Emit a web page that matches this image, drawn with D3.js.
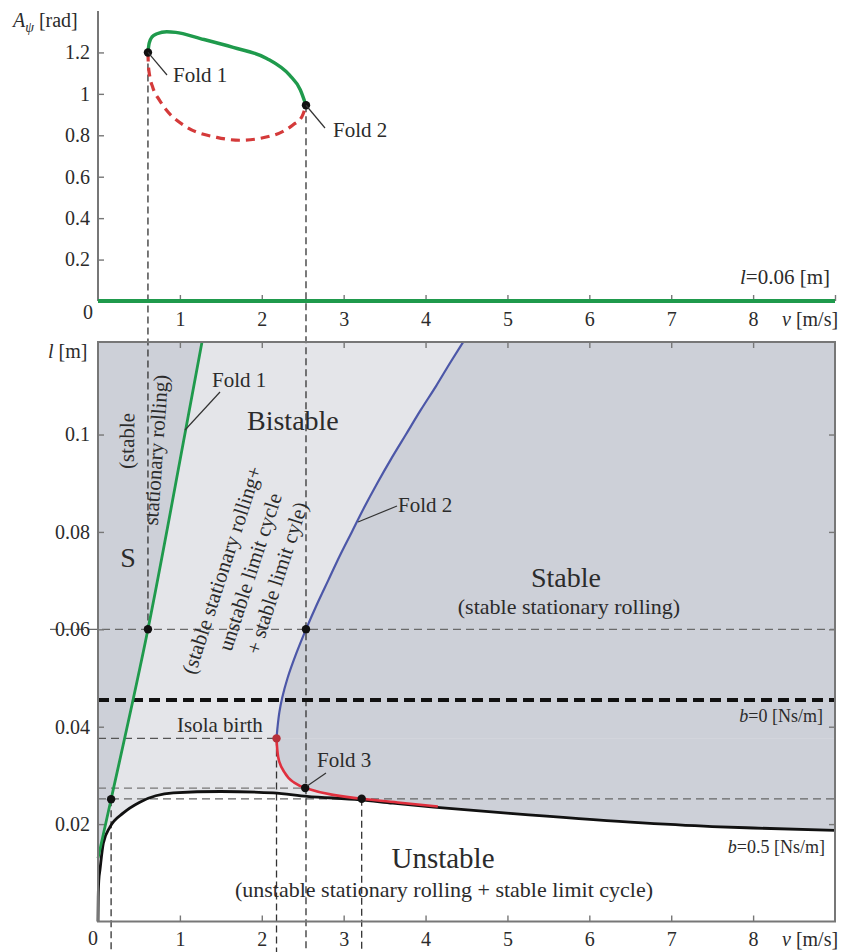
<!DOCTYPE html>
<html><head><meta charset="utf-8">
<script src="https://cdn.jsdelivr.net/npm/d3@7"></script>
<style>
body{margin:0;background:#fff}
text{font-family:"Liberation Serif","Times New Roman",serif;fill:#2b2b2b}
</style>
</head><body>
<svg id="c" width="846" height="952"></svg>
<script>
// ---------- data ----------
const xTicks=[1,2,3,4,5,6,7,8,9];
const xTickLabels=["1","2","3","4","5","6","7","8",""];
const topYTicks=[0.2,0.4,0.6,0.8,1,1.2];
const topYTickLabels=["0.2","0.4","0.6","0.8","1","1.2"];
const botYTicks=[0.02,0.04,0.06,0.08,0.1];
const botYTickLabels=["0.02","0.04","0.06","0.08","0.1"];

// top panel (l = 0.06 m): limit-cycle amplitude A_psi vs v
const stableBranch=[[0.61,1.2],[0.625,1.245],[0.66,1.275],[0.72,1.29],[0.84,1.3],[0.95,1.297],[1.25,1.267],[1.65,1.224],[2.06,1.171],[2.34,1.09],[2.47,1.02],[2.54,0.945]];
const unstableBranch=[[0.61,1.2],[0.615,1.14],[0.63,1.09],[0.67,1.03],[0.75,0.97],[0.84,0.92],[1.08,0.84],[1.45,0.79],[1.73,0.776],[2.14,0.8],[2.38,0.85],[2.49,0.89],[2.54,0.945]];
const zeroBranch=[[0,0],[9,0]];
const topFolds=[[0.61,1.2],[2.54,0.945]];

// bottom panel: stability chart l vs v
const fold1Curve=[[0.0,0.013],[0.16,0.0251],[0.61,0.06],[1.06,0.1],[1.27,0.119]];
const fold2Curve=[[2.18,0.0376],[2.193,0.04],[2.215,0.043],[2.25,0.046],[2.315,0.05],[2.42,0.055],[2.54,0.06],[2.67,0.065],[2.81,0.07],[2.95,0.075],[3.1,0.08],[3.25,0.085],[3.41,0.09],[3.58,0.095],[3.76,0.1],[3.94,0.105],[4.13,0.11],[4.31,0.115],[4.46,0.119]];
const fold3Curve=[[2.18,0.0376],[2.2,0.0338],[2.26,0.0311],[2.38,0.0287],[2.53,0.0274],[2.87,0.026],[3.22,0.0252],[3.69,0.0244],[4.15,0.0236]];
const hopfCurve=[[0,0],[0.003,0.005],[0.01,0.0085],[0.024,0.0106],[0.065,0.0161],[0.146,0.0194],[0.31,0.0223],[0.51,0.0245],[0.92,0.0264],[1.5,0.0267],[2.14,0.0264],[2.55,0.0257],[3.2,0.025],[3.6,0.0243],[4.1,0.0235],[5.03,0.0222],[6.5,0.0204],[7.5,0.0195],[8,0.0192],[9,0.0187]];
const undampedLevel=0.0455;
const lRef=0.06;
const isolaPoint=[2.18,0.0376];
const fold3Point=[2.53,0.0274];
const mergePoint=[3.22,0.0252];
const fold1Low=[0.16,0.0251];
const botFolds=[[0.61,0.06],[2.54,0.06],fold1Low,fold3Point,mergePoint];

// ---------- layout ----------
const svg=d3.select("#c");
const x=d3.scaleLinear([0,9],[98,835]);
const yT=d3.scaleLinear([0,1.4],[301,11]);
const yB=d3.scaleLinear([0,0.119],[921.5,342]);
const dark="#cdd0d8", light="#e4e5e9";
const serif='"Liberation Serif","Times New Roman",serif';

// ---------- bottom regions ----------
const gR=svg.append("g");
gR.append("rect").attr("x",x(0)).attr("y",yB(0.119)).attr("width",x(9)-x(0)).attr("height",yB(0)-yB(0.119)).attr("fill",light);
gR.append("path").datum(fold1Curve).attr("fill",dark)
  .attr("d",d3.area().curve(d3.curveMonotoneY).y(d=>yB(d[1])).x0(x(0)).x1(d=>x(d[0])));
gR.append("path").datum(fold2Curve).attr("fill",dark)
  .attr("d",d3.area().curve(d3.curveMonotoneY).y(d=>yB(d[1])).x0(d=>x(d[0])).x1(x(9)));
const f3rev=fold3Curve.filter(d=>d[0]<=mergePoint[0]).slice().reverse();
gR.append("path").datum(f3rev).attr("fill",dark)
  .attr("d",d3.area().curve(d3.curveMonotoneY).y(d=>yB(d[1])).x0(d=>x(d[0])).x1(x(9)));
gR.append("rect").attr("x",x(mergePoint[0])).attr("y",yB(mergePoint[1])-0.5).attr("width",x(9)-x(mergePoint[0])).attr("height",yB(0)-yB(mergePoint[1])).attr("fill",dark);
gR.append("path").datum(hopfCurve).attr("fill","#fff")
  .attr("d",d3.area().curve(d3.curveMonotoneX).x(d=>x(d[0])).y0(yB(0)).y1(d=>yB(d[1])));

// ---------- dashed reference lines ----------
const gD=svg.append("g").attr("fill","none");
function dash(x1,y1,x2,y2,col,w,da){gD.append("line").attr("x1",x1).attr("y1",y1).attr("x2",x2).attr("y2",y2).attr("stroke",col).attr("stroke-width",w).attr("stroke-dasharray",da);}
dash(50,yB(lRef),x(9),yB(lRef),"#6a6a6a",1.3,"8,5");
dash(x(0),yB(isolaPoint[1]),x(isolaPoint[0]),yB(isolaPoint[1]),"#555",1.3,"8,5");
dash(x(0),yB(fold3Point[1]),x(fold3Point[0]),yB(fold3Point[1]),"#777",1.3,"8,5");
dash(x(0),yB(mergePoint[1]),x(9),yB(mergePoint[1]),"#666",1.3,"8,5");
dash(x(topFolds[0][0]),yT(topFolds[0][1]),x(topFolds[0][0]),yB(lRef),"#333",1.3,"7,4");
dash(x(topFolds[1][0]),yT(topFolds[1][1]),x(topFolds[1][0]),952,"#333",1.3,"7,4");
dash(x(isolaPoint[0]),yB(isolaPoint[1]),x(isolaPoint[0]),952,"#333",1.3,"7,4");
dash(x(mergePoint[0]),yB(mergePoint[1]),x(mergePoint[0]),952,"#333",1.3,"7,4");
dash(x(fold1Low[0]),yB(fold1Low[1]),x(fold1Low[0]),952,"#333",1.3,"7,4");
dash(x(0),yB(undampedLevel),x(9),yB(undampedLevel),"#111",4,"11,6");

// ---------- curves ----------
const lineT=d3.line().curve(d3.curveMonotoneX).x(d=>x(d[0])).y(d=>yT(d[1]));
const lineB=d3.line().curve(d3.curveMonotoneX).x(d=>x(d[0])).y(d=>yB(d[1]));
const lineBy=d3.line().curve(d3.curveMonotoneY).x(d=>x(d[0])).y(d=>yB(d[1]));
svg.append("path").datum(hopfCurve).attr("d",lineB).attr("fill","none").attr("stroke","#111").attr("stroke-width",2.8);
svg.append("path").datum(fold3Curve.slice().reverse()).attr("d",lineBy).attr("fill","none").attr("stroke","#e0303e").attr("stroke-width",2.6);
svg.append("path").datum(fold2Curve).attr("d",lineBy).attr("fill","none").attr("stroke","#4c57a8").attr("stroke-width",2.2);
svg.append("path").datum(fold1Curve).attr("d",lineB).attr("fill","none").attr("stroke","#1f9a4c").attr("stroke-width",2.8);

svg.append("path").datum(unstableBranch).attr("d",lineT).attr("fill","none").attr("stroke","#d43a3a").attr("stroke-width",3.2).attr("stroke-dasharray","9,6");
svg.append("path").datum(stableBranch).attr("d",lineT).attr("fill","none").attr("stroke","#1f9a4c").attr("stroke-width",3.4);

// ---------- axes ----------
function styleAxis(g){g.select(".domain").remove();g.selectAll(".tick line").attr("stroke","#777").attr("stroke-width",1.4);g.selectAll("text").attr("font-family",serif).attr("font-size",20).attr("fill","#2b2b2b");}
svg.append("line").attr("x1",x(0)).attr("x2",x(0)).attr("y1",yT(1.4)).attr("y2",yT(0)).attr("stroke","#777").attr("stroke-width",2);
svg.append("g").attr("transform",`translate(0,${yT(0)})`).call(d3.axisBottom(x).tickValues(xTicks).tickSize(-6).tickPadding(11).tickFormat((d,i)=>xTickLabels[i])).call(styleAxis);
svg.append("g").attr("transform",`translate(${x(0)},0)`).call(d3.axisLeft(yT).tickValues(topYTicks).tickSize(-6).tickPadding(8).tickFormat((d,i)=>topYTickLabels[i])).call(styleAxis);
svg.append("path").datum(zeroBranch).attr("d",lineT).attr("stroke","#1f9a4c").attr("stroke-width",4.2).attr("fill","none");

svg.append("rect").attr("x",x(0)).attr("y",yB(0.119)).attr("width",x(9)-x(0)).attr("height",yB(0)-yB(0.119)).attr("fill","none").attr("stroke","#777").attr("stroke-width",2);
svg.append("g").attr("transform",`translate(0,${yB(0)})`).call(d3.axisBottom(x).tickValues(xTicks.slice(0,8)).tickSize(-6).tickPadding(10).tickFormat((d,i)=>xTickLabels[i])).call(styleAxis);
svg.append("g").attr("transform",`translate(0,${yB(0.119)})`).call(d3.axisTop(x).tickValues(xTicks.slice(0,8)).tickSize(-6).tickFormat("")).call(styleAxis);
svg.append("g").attr("transform",`translate(${x(0)},0)`).call(d3.axisLeft(yB).tickValues(botYTicks).tickSize(-6).tickPadding(8).tickFormat((d,i)=>botYTickLabels[i])).call(styleAxis);
svg.append("g").attr("transform",`translate(${x(9)},0)`).call(d3.axisRight(yB).tickValues(botYTicks).tickSize(-6).tickFormat("")).call(styleAxis);

// ---------- dots ----------
svg.selectAll(".dt").data(topFolds).join("circle").attr("cx",d=>x(d[0])).attr("cy",d=>yT(d[1])).attr("r",4.2).attr("fill","#111");
svg.selectAll(".db").data(botFolds).join("circle").attr("cx",d=>x(d[0])).attr("cy",d=>yB(d[1])).attr("r",4.2).attr("fill","#111");
svg.append("circle").attr("cx",x(isolaPoint[0])).attr("cy",yB(isolaPoint[1])).attr("r",4.2).attr("fill","#b8303a");

// ---------- text ----------
function txt(s,px,py,size,anchor,opts){const t=svg.append("text").attr("x",px).attr("y",py).attr("font-size",size).attr("text-anchor",anchor||"start");if(opts&&opts.rot!==undefined){t.attr("transform",`rotate(${opts.rot},${px},${py})`).attr("dominant-baseline","central");}t.text(s);return t;}
function leader(x1,y1,x2,y2){svg.append("line").attr("x1",x1).attr("y1",y1).attr("x2",x2).attr("y2",y2).attr("stroke","#333").attr("stroke-width",1.2);}

txt("0",88,319,20,"middle");
txt("0",93,945,20,"middle");
function vTitle(py){const t=svg.append("text").attr("x",782).attr("y",py).attr("font-size",20);t.append("tspan").attr("font-style","italic").text("v");t.append("tspan").text(" [m/s]");}
vTitle(326); vTitle(946);
{const t=svg.append("text").attr("x",13).attr("y",27).attr("font-size",20);t.append("tspan").attr("font-style","italic").text("A");t.append("tspan").attr("font-style","italic").attr("font-size",14).attr("dy",5).text("ψ");t.append("tspan").attr("dy",-5).text(" [rad]");}
{const t=svg.append("text").attr("x",48).attr("y",358).attr("font-size",20);t.append("tspan").attr("font-style","italic").text("l");t.append("tspan").text(" [m]");}
{const t=svg.append("text").attr("x",830).attr("y",284).attr("font-size",21).attr("text-anchor","end");t.append("tspan").attr("font-style","italic").text("l");t.append("tspan").text("=0.06 [m]");}
{const t=svg.append("text").attr("x",823).attr("y",722).attr("font-size",18).attr("text-anchor","end");t.append("tspan").attr("font-style","italic").text("b");t.append("tspan").text("=0 [Ns/m]");}
{const t=svg.append("text").attr("x",825).attr("y",853).attr("font-size",18).attr("text-anchor","end");t.append("tspan").attr("font-style","italic").text("b");t.append("tspan").text("=0.5 [Ns/m]");}

leader(x(topFolds[0][0]),yT(topFolds[0][1]),167,75); txt("Fold 1",173,82,21);
leader(x(topFolds[1][0]),yT(topFolds[1][1]),325,128); txt("Fold 2",333,137,21);
leader(185,430,220,392); txt("Fold 1",212,387,21);
leader(358,522,397,506); txt("Fold 2",398,512,21);
leader(x(fold3Point[0])+2,yB(fold3Point[1])-2,326,773); txt("Fold 3",317,767,21);
txt("Isola birth",177,732,21);

txt("Bistable",247,430,28);
txt("S",128,567,28,"middle");
txt("Stable",566,587,28,"middle");
txt("(stable stationary rolling)",569,614,22,"middle");
txt("Unstable",443,868,29,"middle");
txt("(unstable stationary rolling + stable limit cycle)",444,897,22,"middle");
txt("(stable",127,441,21,"middle",{rot:-89});
txt("stationary rolling)",156,450,21,"middle",{rot:-86});
txt("(stable stationary rolling+",222,570,21,"middle",{rot:-72});
txt("unstable limit cycle",250,572,21,"middle",{rot:-72});
txt("+ stable limit cyle)",277,578,21,"middle",{rot:-72});
</script>
</body></html>
